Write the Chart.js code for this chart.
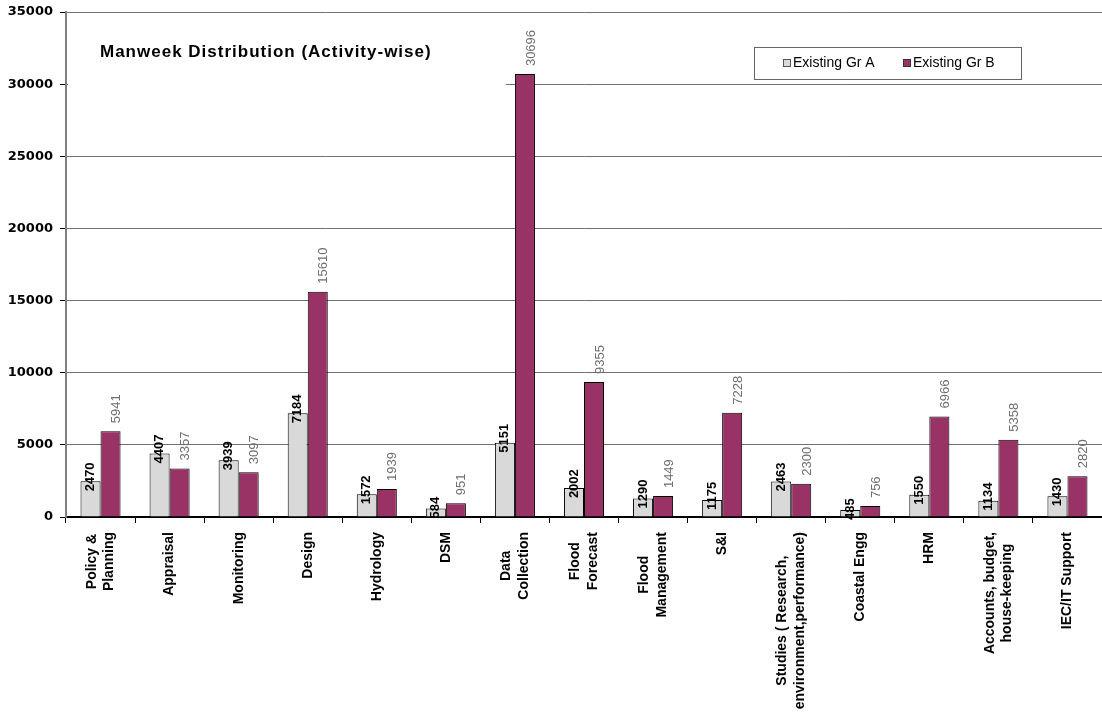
<!DOCTYPE html>
<html lang="en">
<head>
<meta charset="UTF-8">
<title>Manweek Distribution (Activity-wise)</title>
<style>
  html, body { margin: 0; padding: 0; background: #fff; }
  #wrap { width: 1102px; height: 725px; }
</style>
</head>
<body>
<div id="wrap"><canvas id="manweekChart"></canvas></div>
<script src="https://cdn.jsdelivr.net/npm/chart.js"></script>
<script>
// activities on the x axis (multi-line names are arrays)
const activities = [
  ['Policy &', 'Planning'],
  'Appraisal',
  'Monitoring',
  'Design',
  'Hydrology',
  'DSM',
  ['Data', 'Collection'],
  ['Flood', 'Forecast'],
  ['Flood', 'Management'],
  'S&I',
  ['Studies ( Research,', 'environment,performance)'],
  'Coastal Engg',
  'HRM',
  ['Accounts, budget,', 'house-keeping'],
  'IEC/IT Support'
];
const seriesNames = ['Existing Gr A', 'Existing Gr B'];
const groupA = [2470, 4407, 3939, 7184, 1572, 584, 5151, 2002, 1290, 1175, 2463, 485, 1550, 1134, 1430];
const groupB = [5941, 3357, 3097, 15610, 1939, 951, 30696, 9355, 1449, 7228, 2300, 756, 6966, 5358, 2820];
const yMax = 35000;
const yStep = 5000;

const colorA = '#d9d9d9';
const colorB = '#993366';

// value labels, activity names, title and legend box
const decorations = {
  id: 'decorations',
  beforeDatasetsDraw(chart) {
    // title sits on a white box that hides the grid behind it
    const ctx = chart.ctx;
    const area = chart.chartArea;
    ctx.save();
    ctx.fillStyle = '#fff';
    ctx.fillRect(area.left + 2, area.top + 14, 438, 76);
    ctx.font = 'bold 17px "Liberation Sans", Arial, sans-serif';
    ctx.letterSpacing = '1px';
    ctx.fillStyle = '#000';
    ctx.textBaseline = 'middle';
    ctx.fillText('Manweek Distribution (Activity-wise)', 100, 52);
    ctx.restore();
  },
  afterDatasetsDraw(chart) {
    const ctx = chart.ctx;
    const base = chart.scales.y.getPixelForValue(0);
    const metaA = chart.getDatasetMeta(0);
    const metaB = chart.getDatasetMeta(1);
    ctx.save();
    ctx.textBaseline = 'middle';
    ctx.textAlign = 'left';
    metaA.data.forEach((bar, i) => {
      const start = Math.min(bar.y + 10, base + 8);
      ctx.save();
      ctx.translate(bar.x, start);
      ctx.rotate(-Math.PI / 2);
      ctx.font = 'bold 13px "Liberation Sans", Arial, sans-serif';
      ctx.fillStyle = '#000';
      ctx.fillText(String(groupA[i]), 0, 0);
      ctx.restore();
    });
    metaB.data.forEach((bar, i) => {
      ctx.save();
      ctx.translate(bar.x + 6, bar.y - 8);
      ctx.rotate(-Math.PI / 2);
      ctx.font = '13px "Liberation Sans", Arial, sans-serif';
      ctx.fillStyle = '#6e6e6e';
      ctx.fillText(String(groupB[i]), 0, 0);
      ctx.restore();
    });
    ctx.restore();
  },
  afterDraw(chart) {
    const ctx = chart.ctx;
    const x = chart.scales.x;
    const area = chart.chartArea;

    // activity names, rotated, lines centred on each other
    ctx.save();
    ctx.font = 'bold 14px "Liberation Sans", Arial, sans-serif';
    ctx.fillStyle = '#000';
    ctx.textAlign = 'center';
    ctx.textBaseline = 'middle';
    const lineH = 17.5;
    activities.forEach((name, i) => {
      const lines = Array.isArray(name) ? name : [name];
      const maxW = Math.max(...lines.map(l => ctx.measureText(l).width));
      ctx.save();
      ctx.translate(x.getPixelForValue(i), area.bottom + 15 + maxW / 2);
      ctx.rotate(-Math.PI / 2);
      lines.forEach((l, k) => ctx.fillText(l, 0, (k - (lines.length - 1) / 2) * lineH));
      ctx.restore();
    });
    ctx.restore();

    // legend box
    ctx.save();
    ctx.fillStyle = '#fff';
    ctx.fillRect(754.5, 47.5, 267, 32);
    ctx.strokeStyle = '#666';
    ctx.lineWidth = 1;
    ctx.strokeRect(754.5, 47.5, 267, 32);
    ctx.font = '14px "Liberation Sans", Arial, sans-serif';
    ctx.textBaseline = 'middle';
    const items = [[783, colorA, '#555'], [903, colorB, '#333']];
    items.forEach(([lx, fill, edge], k) => {
      ctx.fillStyle = fill;
      ctx.fillRect(lx + 0.5, 59.5, 7, 7);
      ctx.strokeStyle = edge;
      ctx.strokeRect(lx + 0.5, 59.5, 7, 7);
      ctx.fillStyle = '#000';
      ctx.fillText(seriesNames[k], lx + 10, 63);
    });
    ctx.restore();
  }
};

new Chart(document.getElementById('manweekChart'), {
  type: 'bar',
  data: {
    labels: activities,
    datasets: [
      { label: seriesNames[0], data: groupA, backgroundColor: colorA, borderColor: '#000', borderWidth: 1 },
      { label: seriesNames[1], data: groupB, backgroundColor: colorB, borderColor: '#000', borderWidth: 1 }
    ]
  },
  options: {
    responsive: true,
    maintainAspectRatio: false,
    animation: false,
    layout: { padding: { top: 12, right: 0, left: 0, bottom: 0 } },
    datasets: { bar: { barPercentage: 1, categoryPercentage: 0.58 } },
    plugins: {
      legend: { display: false },
      tooltip: { enabled: false }
    },
    scales: {
      x: {
        grid: { display: true, drawOnChartArea: false, drawTicks: true, tickLength: 6, tickColor: '#000' },
        border: { color: '#000', width: 2 },
        ticks: { display: false },
        afterFit(scale) { scale.height = 208; }
      },
      y: {
        min: 0,
        max: yMax,
        ticks: {
          stepSize: yStep,
          padding: 7,
          color: '#000',
          font: { family: '"DejaVu Sans", sans-serif', size: 13, weight: 'bold', lineHeight: 0.7 },
          callback: v => String(v)
        },
        grid: { color: '#707070', tickColor: '#000', tickLength: 6 },
        border: { color: '#808080', width: 2 },
        afterFit(scale) { scale.width = 66; }
      }
    }
  },
  plugins: [decorations]
});
</script>
</body>
</html>
